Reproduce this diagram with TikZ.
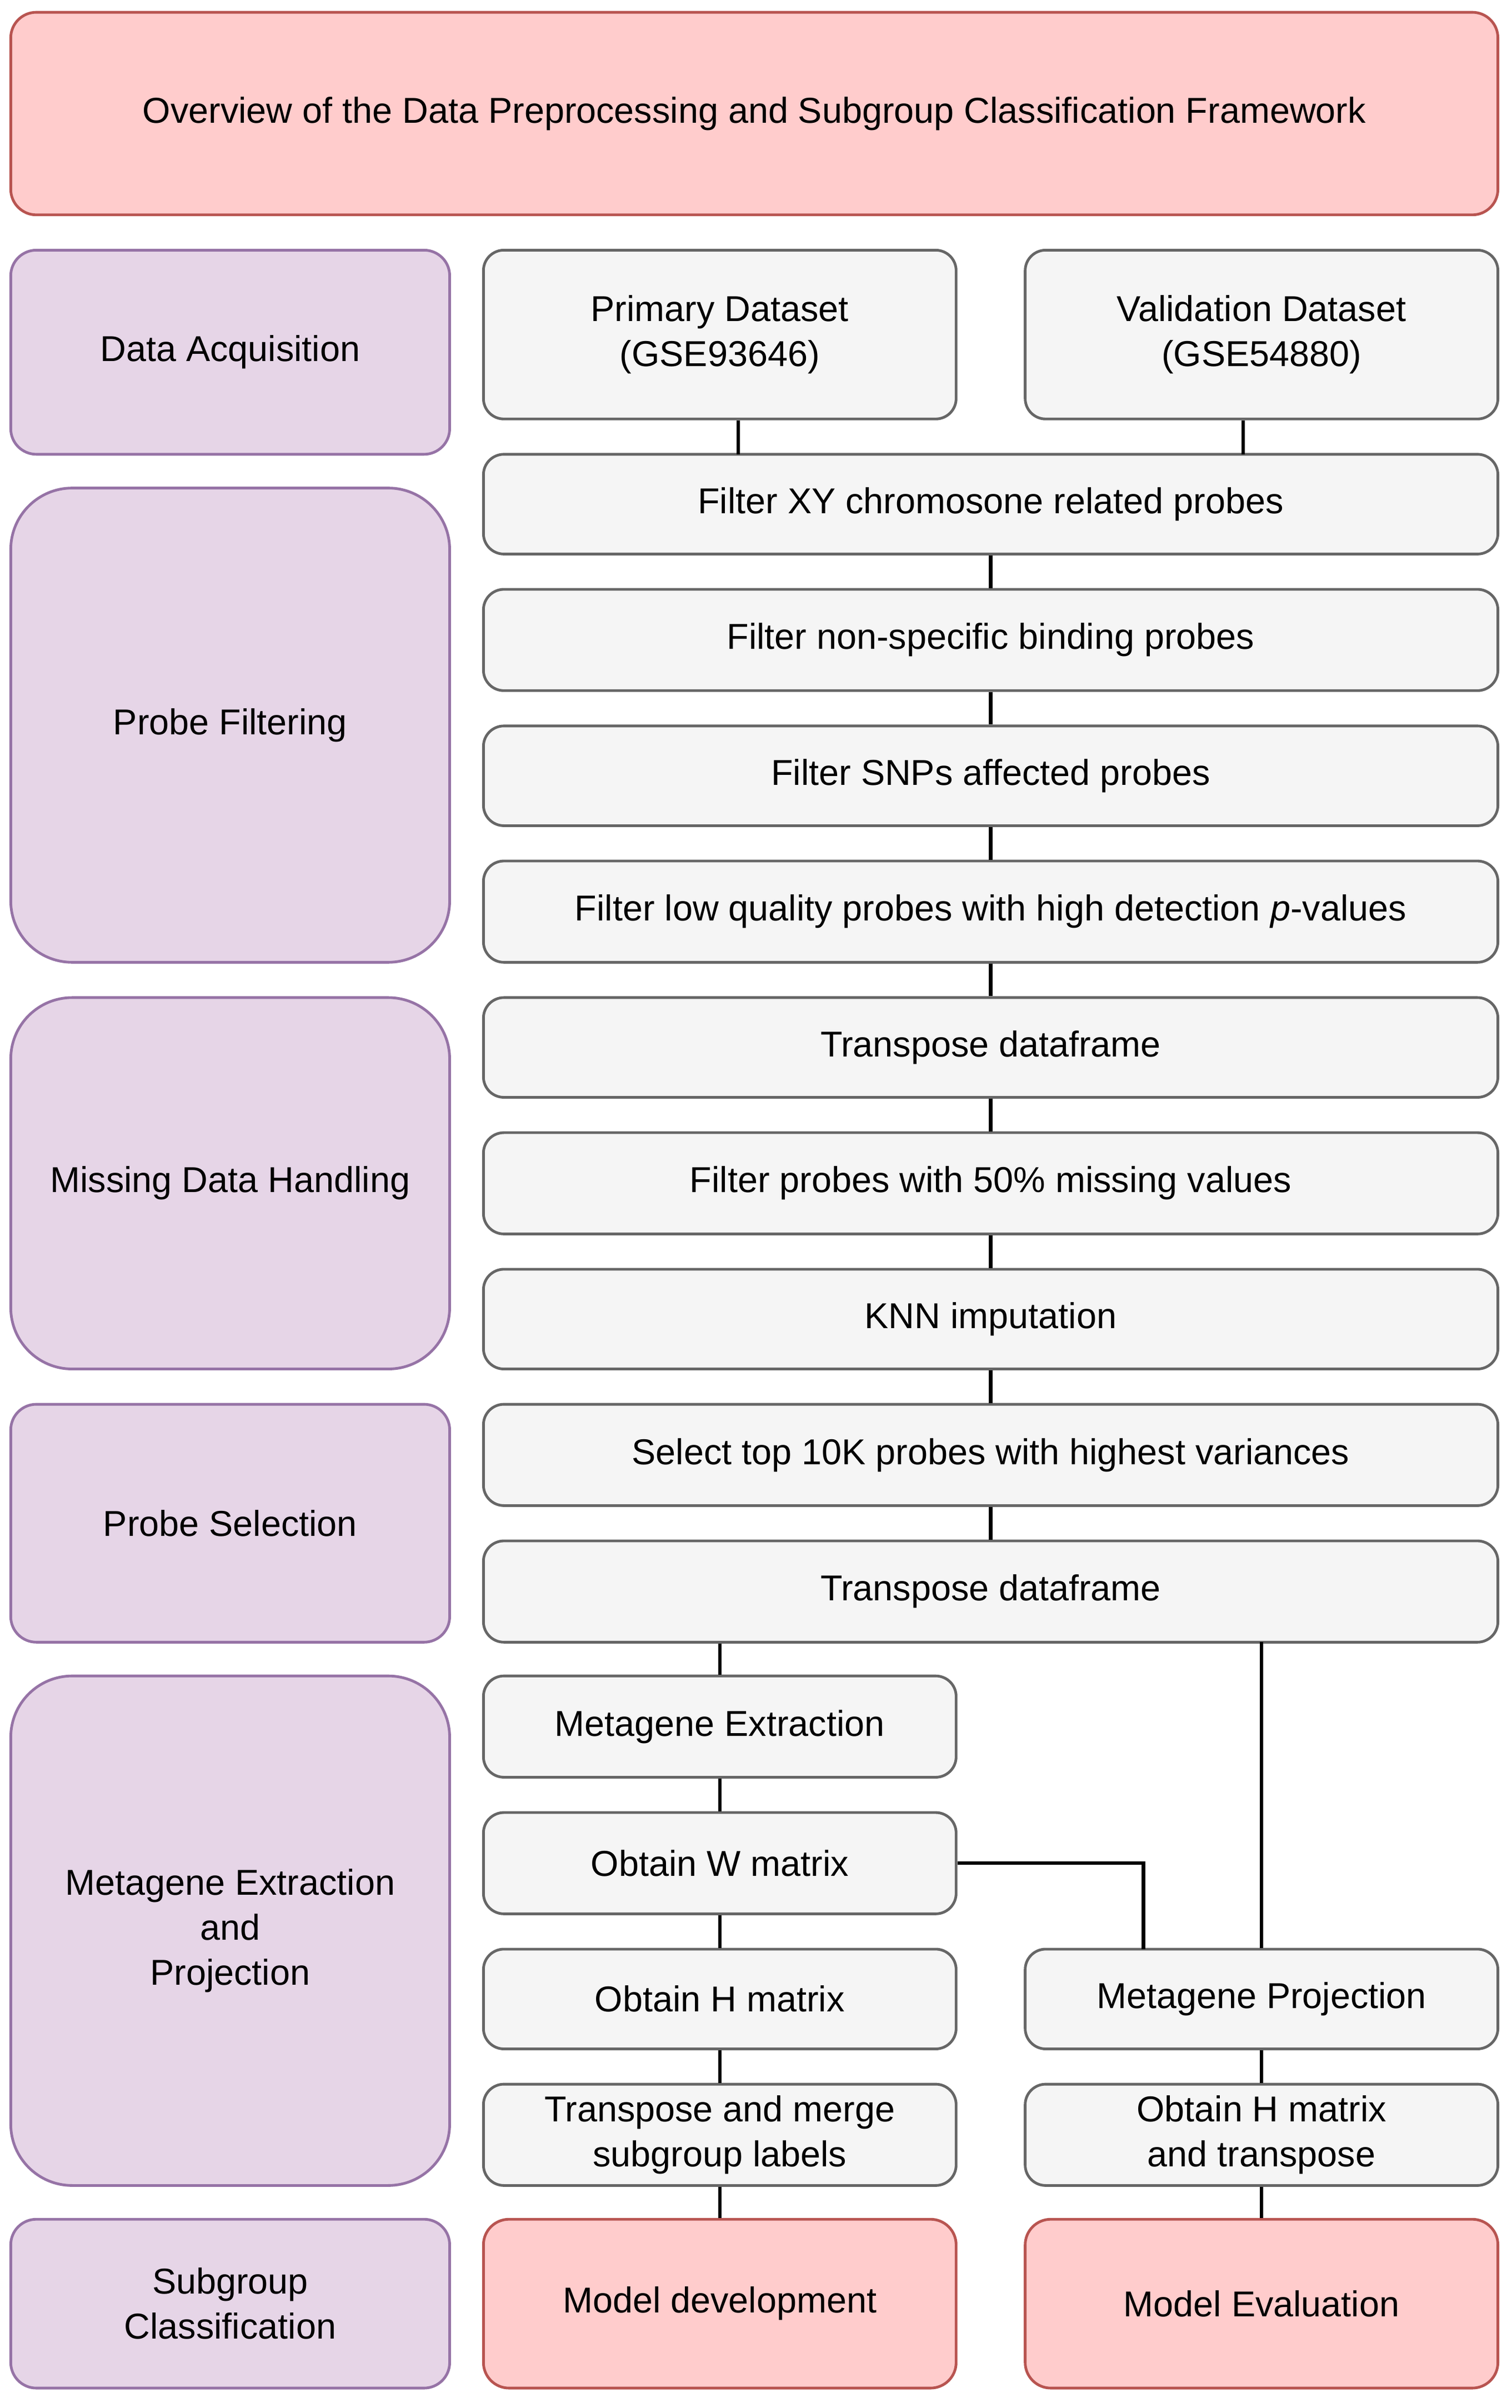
\documentclass[tikz,border=0pt]{standalone}
\usepackage{fontspec}
\setmainfont{Liberation Sans}
\usetikzlibrary{positioning}
\definecolor{redfill}{HTML}{FFCCCC}
\definecolor{reddraw}{HTML}{B85450}
\definecolor{purfill}{HTML}{E6D5E7}
\definecolor{purdraw}{HTML}{9673A6}
\definecolor{grayfill}{HTML}{F5F5F5}
\definecolor{graydraw}{HTML}{666666}
% box from two corners (coordinates in reference pixels)
\newcommand\mkbox[7]{%
  \pgfmathsetmacro\bw{(#5-#3)*0.03}%
  \pgfmathsetmacro\bh{(#6-#4)*0.03}%
  \node[#2, minimum width=\bw cm, minimum height=\bh cm] (#1) at ({(#3+#5)/2},{(#4+#6)/2}) {#7};}
\begin{document}
\begin{tikzpicture}[x=0.03cm,y=-0.03cm,
  every node/.style={font=\fontsize{20}{25}\selectfont,align=center,inner sep=0pt},
  stage/.style={draw=purdraw,fill=purfill,line width=1.5pt,rounded corners=0.5cm},
  bigstage/.style={stage,rounded corners=1.2cm},
  procstep/.style={draw=graydraw,fill=grayfill,line width=1.5pt,rounded corners=0.4cm},
  goal/.style={draw=reddraw,fill=redfill,line width=1.5pt,rounded corners=0.5cm},
  link/.style={line width=2pt}]
\useasboundingbox (0,0) rectangle (985,1569);
\mkbox{title}{goal}{7}{8}{976}{140}{Overview of the Data Preprocessing and Subgroup Classification Framework}
% stages
\mkbox{acq}{stage}{7}{163}{293}{296}{Data Acquisition}
\mkbox{filt}{bigstage}{7}{318}{293}{627}{Probe Filtering}
\mkbox{miss}{bigstage}{7}{650}{293}{892}{Missing Data Handling}
\mkbox{sel}{stage}{7}{915}{293}{1070}{Probe Selection}
\mkbox{meta}{bigstage}{7}{1092}{293}{1424}{Metagene Extraction\\and\\Projection}
\mkbox{cls}{stage}{7}{1446}{293}{1556}{Subgroup\\Classification}
% steps
\mkbox{prim}{procstep}{315}{163}{623}{273}{Primary Dataset\\(GSE93646)}
\mkbox{valid}{procstep}{668}{163}{976}{273}{Validation Dataset\\(GSE54880)}
\mkbox{xy}{procstep}{315}{296}{976}{361}{Filter XY chromosone related probes}
\mkbox{nonsp}{procstep}{315}{384}{976}{450}{Filter non-specific binding probes}
\mkbox{snp}{procstep}{315}{473}{976}{538}{Filter SNPs affected probes}
\mkbox{lowq}{procstep}{315}{561}{976}{627}{Filter low quality probes with high detection \textit{p}-values}
\mkbox{trA}{procstep}{315}{650}{976}{715}{Transpose dataframe}
\mkbox{half}{procstep}{315}{738}{976}{804}{Filter probes with 50\% missing values}
\mkbox{knn}{procstep}{315}{827}{976}{892}{KNN imputation}
\mkbox{top}{procstep}{315}{915}{976}{981}{Select top 10K probes with highest variances}
\mkbox{trB}{procstep}{315}{1004}{976}{1070}{Transpose dataframe}
\mkbox{extr}{procstep}{315}{1092}{623}{1158}{Metagene Extraction}
\mkbox{wmat}{procstep}{315}{1181}{623}{1247}{Obtain W matrix}
\mkbox{hmat}{procstep}{315}{1270}{623}{1335}{Obtain H matrix}
\mkbox{merge}{procstep}{315}{1358}{623}{1424}{Transpose and merge\\subgroup labels}
\mkbox{proj}{procstep}{668}{1270}{976}{1335}{Metagene Projection}
\mkbox{htr}{procstep}{668}{1358}{976}{1424}{Obtain H matrix\\and transpose}
\mkbox{dev}{goal}{315}{1446}{623}{1556}{Model development}
\mkbox{eval}{goal}{668}{1446}{976}{1556}{Model Evaluation}
\coordinate (wjoin) at (745,1270);
\coordinate (pjoin) at (822,1070);
\coordinate (xjoin) at (481,296);
\coordinate (vjoin) at (810,296);
% connectors
\draw[link] (prim.south -| xjoin) -- (xjoin);
\draw[link] (valid.south -| vjoin) -- (vjoin);
\foreach \a/\b in {xy/nonsp,nonsp/snp,snp/lowq,lowq/trA,trA/half,half/knn,knn/top,top/trB}
  \draw[link] (\a.south) -- (\b.north);
\draw[link] (trB.south -| extr.north) -- (extr.north);
\foreach \a/\b in {extr/wmat,wmat/hmat,hmat/merge,merge/dev,proj/htr,htr/eval}
  \draw[link] (\a.south) -- (\b.north);
\draw[link] (pjoin) -- (proj.north);
\draw[link] (wmat.east) -| (wjoin);
\end{tikzpicture}
\end{document}
